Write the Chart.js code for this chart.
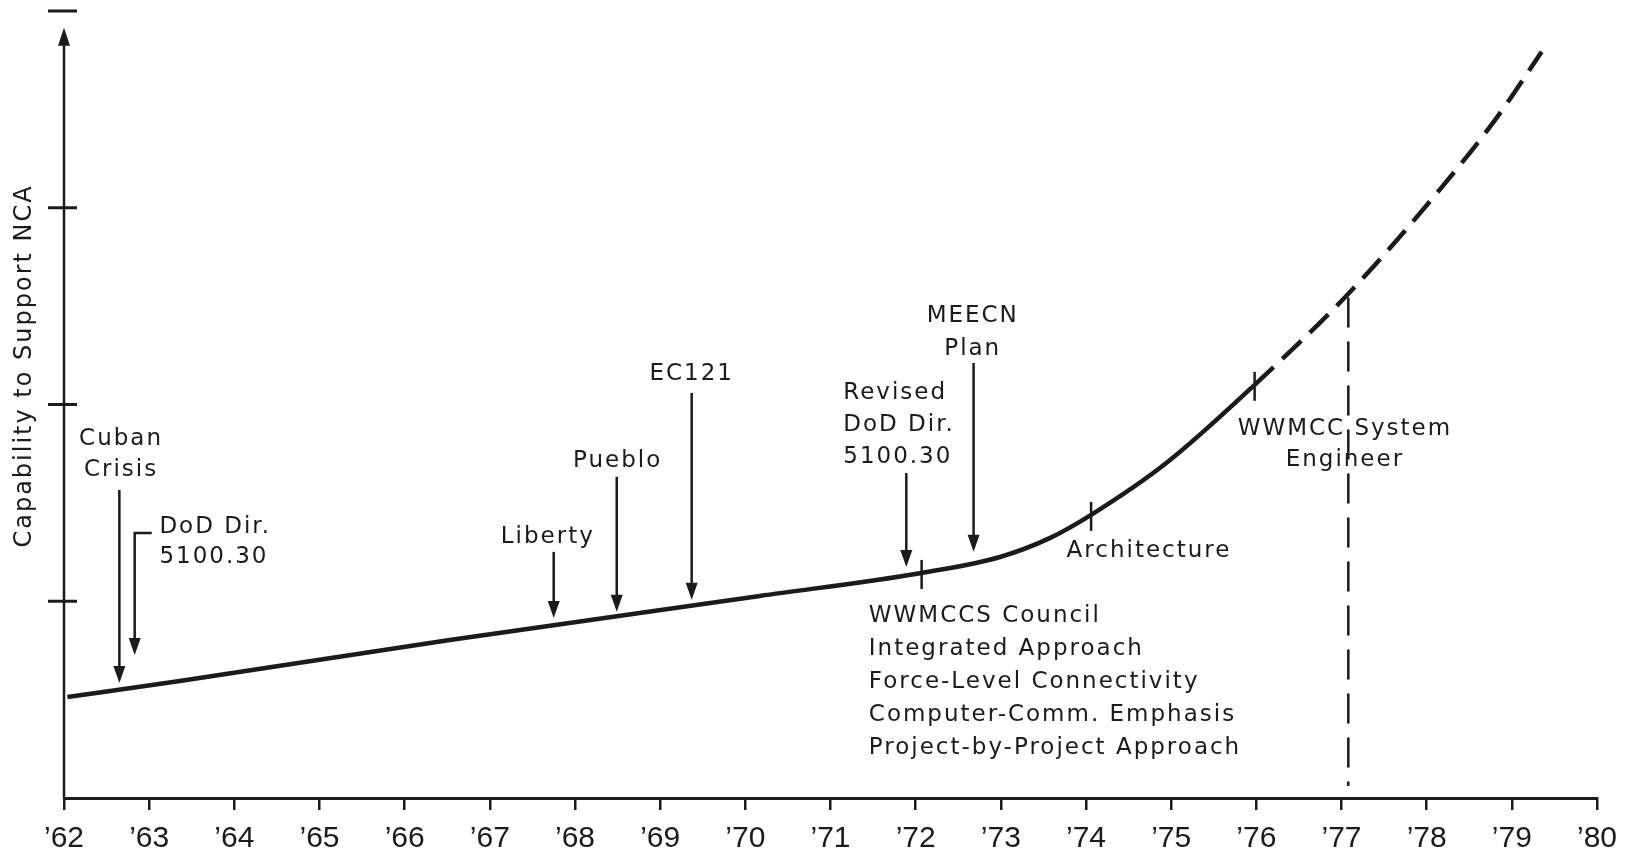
<!DOCTYPE html>
<html>
<head>
<meta charset="utf-8">
<script src="https://cdn.jsdelivr.net/npm/chart.js@4.4.1/dist/chart.umd.min.js"></script>
<style>
  html, body { margin: 0; padding: 0; background: #fff; }
  canvas { display: block; }
</style>
</head>
<body>
<canvas id="chart" width="1630" height="864"></canvas>
<script>
// x axis: years '62 .. '80
const tickYears  = [62, 63, 64, 65, 66, 67, 68, 69, 70, 71, 72, 73, 74, 75, 76, 77, 78, 79, 80];
const tickLabels = ['’62', '’63', '’64', '’65', '’66', '’67', '’68', '’69', '’70', '’71',
                    '’72', '’73', '’74', '’75', '’76', '’77', '’78', '’79', '’80'];
const yTicks = [1, 2, 3, 4];

// capability curve (dashed = projection after '76)
const curveYears  = [62.04, 63.36, 66.53, 70.17, 72.07, 72.99, 73.58, 74.06, 74.95, 75.98, 77.10, 78.19, 78.83, 79.35];
const curveValues = [0.513, 0.595, 0.803, 1.027, 1.144, 1.225, 1.322, 1.439, 1.705, 2.100, 2.572, 3.111, 3.462, 3.793];
const projectedFrom = 75.98;

// events with arrows down to the curve
const eventYears = [62.65, 62.83, 67.75, 68.49, 69.37, 71.89, 72.68];
const arrowTops  = [1.566, 1.347, 1.251, 1.632, 2.059, 1.652, 2.211];
const arrowTips  = [0.585, 0.727, 0.915, 0.946, 1.007, 1.174, 1.251];
const arrowHooks = [null, 63.03, null, null, null, null, null];

// milestones marked with a short bar across the curve
const markYears = [72.07, 74.06, 75.98];
const engineerYear = 77.08;

const notes = [
  { lines: ['Cuban', 'Crisis'], x: 62.67, y: 1.825, align: 'center', lh: 31 },
  { lines: ['DoD Dir.', '5100.30'], x: 63.12, y: 1.378, align: 'left', lh: 30 },
  { lines: ['Liberty'], x: 67.68, y: 1.327, align: 'center', lh: 31 },
  { lines: ['Pueblo'], x: 68.50, y: 1.713, align: 'center', lh: 31 },
  { lines: ['EC121'], x: 69.37, y: 2.156, align: 'center', lh: 31 },
  { lines: ['Revised', 'DoD Dir.', '5100.30'], x: 71.15, y: 2.059, align: 'left', lh: 32 },
  { lines: ['MEECN', 'Plan'], x: 72.67, y: 2.450, align: 'center', lh: 33 },
  { lines: ['WWMCCS Council', 'Integrated Approach', 'Force-Level Connectivity',
            'Computer-Comm. Emphasis', 'Project-by-Project Approach'], x: 71.45, y: 0.925, align: 'left', lh: 33 },
  { lines: ['Architecture'], x: 74.74, y: 1.256, align: 'center', lh: 31 },
  { lines: ['WWMCC System', 'Engineer'], x: 77.04, y: 1.876, align: 'center', lh: 31 }
];

const ink = '#1b1b1b';

// value of the curve at a year (straight between read points, close enough for the bars)
function curveAt(year) {
  for (let i = 1; i < curveYears.length; i++) {
    if (year <= curveYears[i]) {
      const t = (year - curveYears[i - 1]) / (curveYears[i] - curveYears[i - 1]);
      return curveValues[i - 1] + t * (curveValues[i] - curveValues[i - 1]);
    }
  }
  return curveValues[curveValues.length - 1];
}

const annotate = {
  id: 'annotate',
  beforeDraw(chart) {
    const ctx = chart.ctx;
    ctx.save();
    ctx.fillStyle = '#fff';
    ctx.fillRect(0, 0, chart.width, chart.height);
    ctx.restore();
  },
  afterDraw(chart) {
    const { ctx, scales: { x, y } } = chart;
    const left = x.left;
    ctx.save();
    ctx.strokeStyle = ink;
    ctx.fillStyle = ink;
    ctx.lineCap = 'butt';

    // y axis with arrow head
    const axisTop = y.getPixelForValue(3.915);
    ctx.lineWidth = 2.5;
    ctx.beginPath();
    ctx.moveTo(left, y.getPixelForValue(0));
    ctx.lineTo(left, axisTop + 14);
    ctx.stroke();
    ctx.beginPath();
    ctx.moveTo(left, axisTop);
    ctx.lineTo(left - 6, axisTop + 18);
    ctx.lineTo(left + 6, axisTop + 18);
    ctx.closePath();
    ctx.fill();
    ctx.lineWidth = 3;
    yTicks.forEach(v => {
      const py = y.getPixelForValue(v);
      ctx.beginPath();
      ctx.moveTo(left - 16, py);
      ctx.lineTo(left + 13, py);
      ctx.stroke();
    });

    // y axis title
    ctx.save();
    ctx.translate(25, y.getPixelForValue(2.196));
    ctx.rotate(-Math.PI / 2);
    ctx.font = '24px "DejaVu Sans"';
    ctx.letterSpacing = '2px';
    ctx.textAlign = 'center';
    ctx.textBaseline = 'middle';
    ctx.fillText('Capability to Support NCA', 0, 0);
    ctx.restore();

    // arrows
    ctx.lineWidth = 2.5;
    eventYears.forEach((yr, i) => {
      const px = x.getPixelForValue(yr);
      const top = y.getPixelForValue(arrowTops[i]);
      const tip = y.getPixelForValue(arrowTips[i]);
      ctx.beginPath();
      if (arrowHooks[i] !== null) ctx.moveTo(x.getPixelForValue(arrowHooks[i]), top);
      else ctx.moveTo(px, top);
      ctx.lineTo(px, top);
      ctx.lineTo(px, tip - 12);
      ctx.stroke();
      ctx.beginPath();
      ctx.moveTo(px, tip);
      ctx.lineTo(px - 6, tip - 17);
      ctx.lineTo(px + 6, tip - 17);
      ctx.closePath();
      ctx.fill();
    });

    // milestone bars across the curve
    ctx.lineWidth = 2.5;
    markYears.forEach(yr => {
      const px = x.getPixelForValue(yr);
      const py = y.getPixelForValue(curveAt(yr));
      ctx.beginPath();
      ctx.moveTo(px, py - 13);
      ctx.lineTo(px, py + 16);
      ctx.stroke();
    });

    // dashed drop line for the system engineer
    ctx.lineWidth = 2.5;
    ctx.setLineDash([30, 14]);
    ctx.beginPath();
    ctx.moveTo(x.getPixelForValue(engineerYear), y.getPixelForValue(curveAt(engineerYear)) + 4);
    ctx.lineTo(x.getPixelForValue(engineerYear), y.getPixelForValue(0) - 12);
    ctx.stroke();
    ctx.setLineDash([]);

    // text notes
    ctx.font = '23px "DejaVu Sans"';
    ctx.letterSpacing = '2px';
    ctx.textBaseline = 'middle';
    notes.forEach(n => {
      ctx.textAlign = n.align;
      const px = x.getPixelForValue(n.x);
      const py = y.getPixelForValue(n.y);
      n.lines.forEach((s, k) => ctx.fillText(s, px, py + k * n.lh));
    });
    ctx.restore();
  }
};

new Chart(document.getElementById('chart'), {
  type: 'line',
  data: {
    datasets: [{
      data: curveYears.map((yr, i) => ({ x: yr, y: curveValues[i] })),
      borderColor: ink,
      borderWidth: 4.5,
      pointRadius: 0,
      cubicInterpolationMode: 'monotone',
      segment: {
        borderDash: c => (c.p0.parsed.x >= projectedFrom - 0.01 ? [26, 12] : undefined)
      }
    }]
  },
  options: {
    responsive: false,
    animation: false,
    layout: { padding: { top: 11, right: 33, left: 0, bottom: 0 } },
    plugins: {
      legend: { display: false },
      tooltip: { enabled: false }
    },
    scales: {
      x: {
        type: 'linear',
        min: 62,
        max: 80,
        afterFit: s => { s.height = 66; },
        border: { display: true, color: ink, width: 3 },
        grid: {
          drawOnChartArea: false,
          drawTicks: true,
          tickLength: 12,
          color: ink,
          lineWidth: 2.5
        },
        ticks: {
          stepSize: 1,
          autoSkip: false,
          maxRotation: 0,
          padding: 11,
          color: ink,
          font: { family: '"Liberation Sans", Arial, sans-serif', size: 30 },
          callback: v => tickLabels[tickYears.indexOf(v)]
        }
      },
      y: {
        min: 0,
        max: 4,
        afterFit: s => { s.width = 64; },
        border: { display: false },
        grid: { display: false },
        ticks: { display: false }
      }
    }
  },
  plugins: [annotate]
});
</script>
</body>
</html>
